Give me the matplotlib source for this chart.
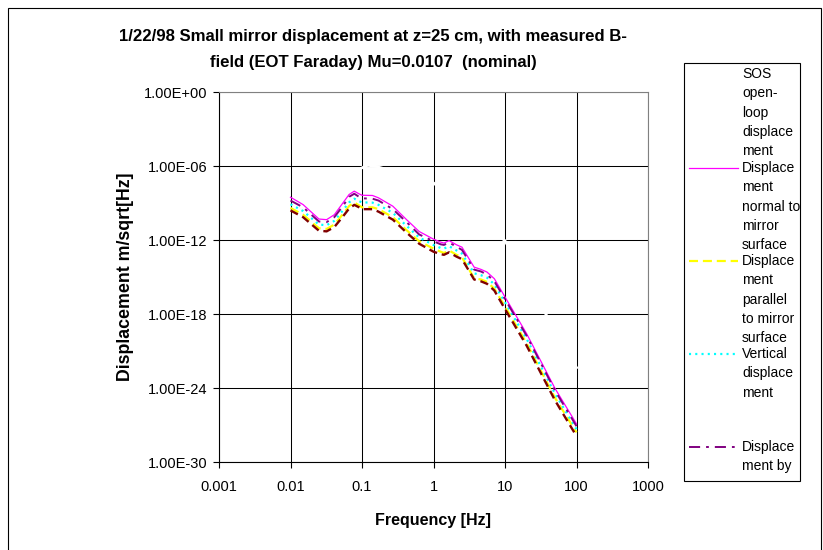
import numpy as np
import matplotlib
matplotlib.use('Agg')
import matplotlib.pyplot as plt
from matplotlib.lines import Line2D
from matplotlib.patches import Rectangle
from matplotlib.ticker import FixedLocator, FuncFormatter, NullLocator

plt.rcParams['font.family'] = ['Liberation Sans', 'DejaVu Sans']
plt.rcParams['lines.scale_dashes'] = False

# frequencies [Hz] shared by the five visible curves
freq = [0.01, 0.015, 0.025, 0.032, 0.041, 0.054, 0.066, 0.078, 0.091, 0.1,
        0.14, 0.17, 0.27, 0.42, 0.63, 1.0, 1.26, 1.4, 1.65, 2.1,
        2.5, 3.7, 4.6, 5.6, 7.1, 10, 20, 50, 100]

# log10 of displacement
log_normal = [-8.53, -9.13, -10.3, -10.35, -9.95, -9.0, -8.31, -8.04, -8.26, -8.37,
              -8.39, -8.58, -9.26, -10.35, -11.31, -11.93, -12.17, -12.25, -12.05, -12.39,
              -12.58, -14.2, -14.38, -14.6, -15.14, -16.62, -19.58, -24.03, -26.91]
log_parallel = [-9.4, -9.95, -11.05, -11.1, -10.75, -9.9, -9.25, -8.95, -9.2, -9.35,
                -9.35, -9.5, -10.15, -11.2, -12.1, -12.7, -12.95, -13.05, -12.85, -13.2,
                -13.4, -15.1, -15.2, -15.4, -15.95, -17.4, -20.35, -24.8, -27.6]
log_vertical = [-9.1, -9.65, -10.75, -10.8, -10.45, -9.6, -8.95, -8.65, -8.85, -8.95,
                -8.97, -9.15, -9.8, -10.85, -11.8, -12.4, -12.65, -12.7, -12.5, -12.85,
                -13.1, -14.7, -14.85, -15.05, -15.6, -17.05, -20.0, -24.45, -27.35]
log_by = [-8.8, -9.35, -10.5, -10.55, -10.15, -9.25, -8.5, -8.25, -8.5, -8.62,
          -8.65, -8.8, -9.5, -10.55, -11.55, -12.1, -12.35, -12.4, -12.2, -12.55,
          -12.8, -14.4, -14.55, -14.8, -15.35, -16.8, -19.75, -24.2, -27.1]
log_sixth = [-9.6, -10.15, -11.25, -11.3, -10.95, -10.1, -9.45, -9.15, -9.35, -9.5,
             -9.5, -9.7, -10.35, -11.4, -12.3, -12.95, -13.15, -13.2, -13.0, -13.35,
             -13.55, -15.2, -15.35, -15.55, -16.1, -17.6, -20.55, -25.0, -27.9]

# SOS open-loop curve is drawn in white (only visible where it cuts gridlines)
freq_sos = [0.1, 0.12, 0.15, 1.0, 10, 37, 100]
log_sos = [-6.15, -5.95, -6.0, -7.37, -12.06, -17.98, -22.35]

x_ticks = [0.001, 0.01, 0.1, 1, 10, 100, 1000]
y_ticks = [1e-30, 1e-24, 1e-18, 1e-12, 1e-6, 1e0]

title = ('1/22/98 Small mirror displacement at z=25 cm, with measured B-',
         'field (EOT Faraday) Mu=0.0107  (nominal)')

W, H = 823, 550
def fx(x):
    return x / W
def fy(y):
    return 1 - y / H

fig = plt.figure(figsize=(W / 100, H / 100), dpi=100)
ax = fig.add_axes([fx(219), fy(462), (648 - 219) / W, (462 - 92) / H])

ax.set_xscale('log')
ax.set_yscale('log')
ax.set_xlim(1e-3, 1e3)
ax.set_ylim(1e-30, 1e0)

f = np.array(freq)
ax.plot(freq_sos, 10.0 ** np.array(log_sos), color='white', lw=2.0, zorder=2)
ax.plot(f, 10.0 ** np.array(log_normal), color='#FF00FF', lw=0.9, zorder=3)
ax.plot(f, 10.0 ** np.array(log_parallel), color='#FFFF00', lw=1.6, dashes=(6.5, 3.5), zorder=3)
ax.plot(f, 10.0 ** np.array(log_vertical), color='#00FFFF', lw=1.6, dashes=(1.5, 3.0), zorder=3)
ax.plot(f, 10.0 ** np.array(log_by), color='#800080', lw=1.4, dashes=(8, 4.3, 2, 4.3), zorder=3)
ax.plot(f, 10.0 ** np.array(log_sixth), color='#800000', lw=1.7, dashes=(6, 3.5), zorder=3)

ax.xaxis.set_major_locator(FixedLocator(x_ticks))
ax.yaxis.set_major_locator(FixedLocator(y_ticks))
ax.xaxis.set_minor_locator(NullLocator())
ax.yaxis.set_minor_locator(NullLocator())
ax.xaxis.set_major_formatter(FuncFormatter(lambda v, p: f'{v:g}'))
ax.yaxis.set_major_formatter(FuncFormatter(lambda v, p: f'{v:.2E}'))
ax.tick_params(axis='both', direction='out', length=4.3, width=0.8, color='black',
               labelsize=10.5)
ax.tick_params(axis='y', pad=4)
ax.tick_params(axis='x', pad=9)

ax.grid(True, color='black', lw=0.75)
ax.set_axisbelow(True)
for s in ['top', 'right']:
    ax.spines[s].set_color('#808080')
for s in ['left', 'bottom']:
    ax.spines[s].set_color('black')
for s in ax.spines.values():
    s.set_linewidth(0.8)

fig.text(fx(125), fy(277), 'Displacement m/sqrt[Hz]', rotation=90, fontsize=12.8,
         fontweight='bold', ha='center', va='center')
fig.text(fx(433), fy(521), 'Frequency [Hz]', fontsize=11.5, fontweight='bold',
         ha='center', va='center')
fig.text(fx(373), fy(37), title[0], fontsize=12.1, fontweight='bold', ha='center', va='center')
fig.text(fx(373), fy(63), title[1], fontsize=12.1, fontweight='bold', ha='center', va='center')

# legend (drawn by hand, Excel-style wrapped labels)
leg_labels = [['SOS', 'open-', 'loop', 'displace', 'ment'],
              ['Displace', 'ment', 'normal to', 'mirror', 'surface'],
              ['Displace', 'ment', 'parallel', 'to mirror', 'surface'],
              ['Vertical', 'displace', 'ment'],
              ['Displace', 'ment by']]
leg_styles = [dict(color='white', lw=1.0),
              dict(color='#FF00FF', lw=0.9),
              dict(color='#FFFF00', lw=1.6, dashes=(6.5, 3.5)),
              dict(color='#00FFFF', lw=1.6, dashes=(1.5, 3.0)),
              dict(color='#800080', lw=1.4, dashes=(8, 4.3, 2, 4.3))]
fig.add_artist(Rectangle((fx(684), fy(481)), (800 - 684) / W, (481 - 63) / H,
                         transform=fig.transFigure, fill=False, ec='black', lw=0.8))
entry_y = [74, 168, 261, 354, 447]
for lines, st, y0 in zip(leg_labels, leg_styles, entry_y):
    fig.add_artist(Line2D([fx(689), fx(738)], [fy(y0), fy(y0)],
                          transform=fig.transFigure, **st))
    for i, t in enumerate(lines):
        fig.text(fx(742), fy(y0 + 19.3 * i), t, fontsize=10, ha='left', va='center')

# chart area border
fig.add_artist(Rectangle((fx(8), -0.01), (821 - 8) / W, fy(8) + 0.01,
                         transform=fig.transFigure, fill=False, ec='black', lw=0.8))

fig.savefig('out.png', dpi=100)
